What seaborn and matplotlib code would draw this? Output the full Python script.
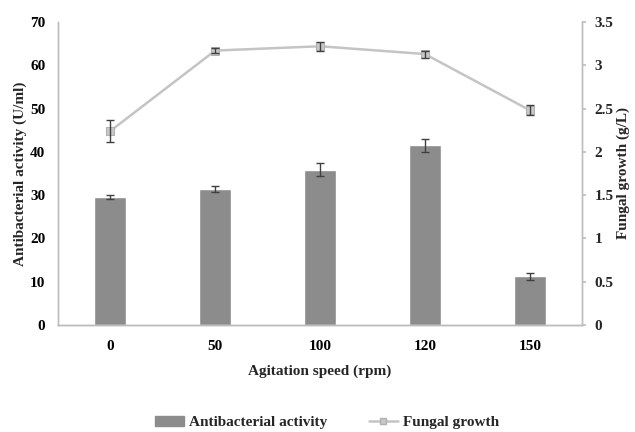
import numpy as np
import pandas as pd
import matplotlib
matplotlib.use("Agg")
import matplotlib.pyplot as plt
import seaborn as sns
from matplotlib.patches import Patch
from matplotlib.lines import Line2D

speeds = ["0", "50", "100", "120", "150"]
antibacterial = [29.5, 31.4, 35.9, 41.5, 11.2]
antibacterial_err = [0.5, 0.6, 1.6, 1.5, 0.8]
fungal = [2.24, 3.17, 3.22, 3.13, 2.48]
fungal_err = [0.13, 0.03, 0.05, 0.04, 0.06]

sns.set_theme(style="white")
plt.rcParams['font.family'] = ['Liberation Serif', 'DejaVu Serif']
plt.rcParams['font.weight'] = 'bold'
plt.rcParams['axes.labelweight'] = 'bold'

df = pd.DataFrame({"speed": speeds, "activity": antibacterial, "fungal": fungal})

fig = plt.figure(figsize=(6.35, 4.32), dpi=100)
ax = fig.add_axes([0.091, 0.248, 0.826, 0.701])

bar_color = "#8c8c8c"
line_color = "#c4c4c4"
err_color = "#404040"
fs = 11

sns.barplot(data=df, x="speed", y="activity", color=bar_color, width=0.31,
            saturation=1, ax=ax, errorbar=None)
ax.errorbar(np.arange(len(speeds)), antibacterial, yerr=antibacterial_err, fmt="none",
            ecolor=err_color, elinewidth=1, capsize=3, capthick=1)
ax.set_ylim(0, 70)
ax.set_yticks(range(0, 71, 10))
ax.set_xlim(-0.5, 4.5)
ax.set_xlabel("Agitation speed (rpm)", fontsize=fs, fontweight="bold", labelpad=8)
ax.set_ylabel("Antibacterial activity (U/ml)", fontsize=fs, fontweight="bold", labelpad=2)

ax2 = ax.twinx()
sns.lineplot(x=np.arange(len(speeds)), y=fungal, ax=ax2, color=line_color, linewidth=1.8,
             marker="s", markersize=6, markeredgecolor="#b0b0b0", markerfacecolor="#c8c8c8")
ax2.errorbar(np.arange(len(speeds)), fungal, yerr=fungal_err, fmt="none",
             ecolor=err_color, elinewidth=1, capsize=3, capthick=1)
ax2.set_ylim(0, 3.5)
ax2.set_yticks([0, 0.5, 1, 1.5, 2, 2.5, 3, 3.5])
ax2.set_yticklabels(["0", "0.5", "1", "1.5", "2", "2.5", "3", "3.5"])
ax2.set_ylabel("Fungal growth (g/L)", fontsize=fs, fontweight="bold", labelpad=2)
ax2.set_xlim(-0.5, 4.5)

for a in (ax, ax2):
    a.spines["top"].set_visible(False)
    for s in ("left", "right", "bottom"):
        a.spines[s].set_color("#bdbdbd")
        a.spines[s].set_linewidth(1.0)
    a.grid(False)
ax.spines["bottom"].set_color("#a0a0a0")
ax.spines["bottom"].set_zorder(5)

ax.tick_params(axis="both", labelsize=fs, length=0, colors="black")
ax.tick_params(axis="x", pad=11)
ax.tick_params(axis="y", pad=9)
ax2.tick_params(axis="y", labelsize=fs, length=3, direction="out", color="#bdbdbd", pad=6)
for lbl in ax.get_xticklabels() + ax.get_yticklabels() + ax2.get_yticklabels():
    lbl.set_fontweight("bold")

handles = [Patch(facecolor=bar_color, edgecolor=bar_color),
           Line2D([0], [0], color=line_color, linewidth=1.8, marker="s", markersize=5,
                  markerfacecolor="#c8c8c8", markeredgecolor="#b0b0b0")]
fig.legend(handles, ["Antibacterial activity", "Fungal growth"], loc="center",
           bbox_to_anchor=(0.515, 0.022), ncol=2, frameon=False,
           prop={"size": fs, "weight": "bold"}, handlelength=1.9, columnspacing=2.7,
           handletextpad=0.35)

fig.savefig("out.png", dpi=100)
